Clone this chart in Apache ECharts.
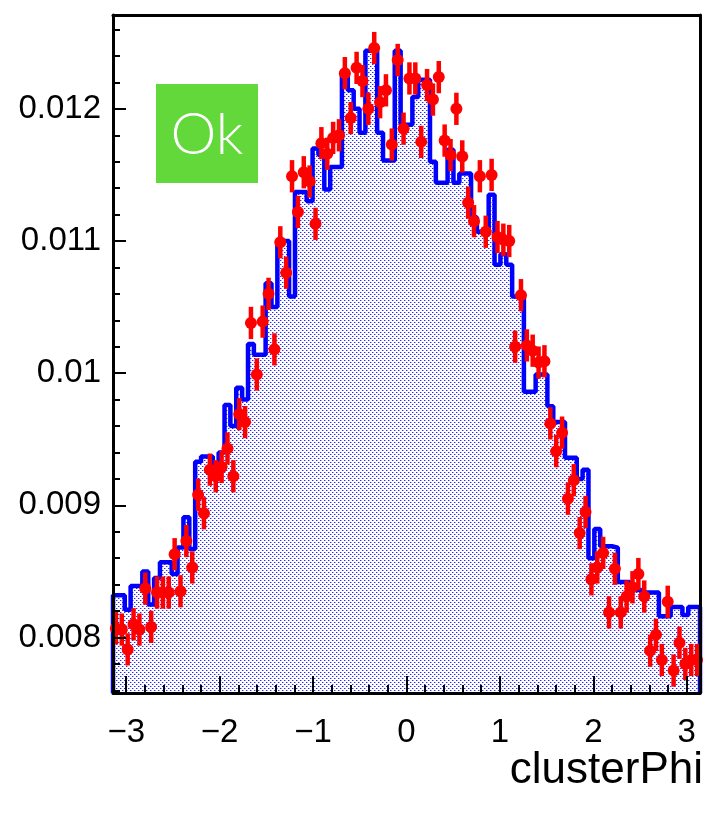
<!DOCTYPE html>
<html>
<head>
<meta charset="utf-8">
<script src="https://cdn.jsdelivr.net/npm/echarts@6/dist/echarts.min.js"></script>
<style>
html,body{margin:0;padding:0;background:#fff}
#main{width:705px;height:815px}
</style>
</head>
<body>
<div id="main"></div>
<script>
// clusterPhi : reference histogram (blue) and data points (red), 100 bins over [-pi, pi]
var phiMin = -Math.PI, phiMax = Math.PI;
var yMin = 0.00758, yMax = 0.01271;

var histVals = [
	0.00832,0.00832,0.00821,0.00839,0.00839,0.00850,0.00825,0.00845,0.00857,0.00857,
	0.00848,0.00868,0.00891,0.00867,0.00933,0.00937,0.00937,0.00930,0.00940,0.00976,
	0.00960,0.00989,0.00980,0.01022,0.01014,0.01014,0.01068,0.01050,0.01100,0.01100,
	0.01058,0.01137,0.01137,0.01130,0.01170,0.01165,0.01139,0.01156,0.01156,0.01228,
	0.01214,0.01200,0.01182,0.01244,0.01244,0.01182,0.01161,0.01161,0.01244,0.01188,
	0.01188,0.01209,0.01222,0.01222,0.01160,0.01144,0.01144,0.01169,0.01144,0.01151,
	0.01151,0.01118,0.01107,0.01107,0.01135,0.01082,0.01090,0.01082,0.01058,0.01058,
	0.00986,0.00986,0.00999,0.00999,0.00975,0.00963,0.00963,0.00936,0.00936,0.00920,
	0.00927,0.00860,0.00882,0.00869,0.00869,0.00868,0.00842,0.00842,0.00836,0.00836,
	0.00834,0.00834,0.00834,0.00816,0.00816,0.00823,0.00823,0.00817,0.00823,0.00823
];
var dataVals = [
	0.00807,0.00806,0.00791,0.00810,0.00806,0.00837,0.00808,0.00834,0.00834,0.00834,
	0.00863,0.00835,0.00873,0.00853,0.00908,0.00894,0.00927,0.00922,0.00929,0.00943,
	0.00922,0.00969,0.00963,0.01038,0.00999,0.01039,0.01060,0.01018,0.01099,0.01076,
	0.01149,0.01122,0.01152,0.01145,0.01113,0.01174,0.01166,0.01178,0.01180,0.01227,
	0.01193,0.01231,0.01221,0.01200,0.01246,0.01205,0.01214,0.01173,0.01237,0.01185,
	0.01223,0.01223,0.01175,0.01218,0.01207,0.01224,0.01176,0.01165,0.01200,0.01164,
	0.01129,0.01115,0.01149,0.01107,0.01150,0.01103,0.01101,0.01100,0.01020,0.01059,
	0.01021,0.01017,0.01008,0.01009,0.00962,0.00941,0.00955,0.00905,0.00919,0.00879,
	0.00895,0.00844,0.00853,0.00864,0.00819,0.00852,0.00819,0.00831,0.00838,0.00848,
	0.00831,0.00790,0.00802,0.00783,0.00827,0.00775,0.00796,0.00780,0.00783,0.00783
];
var errHalf = 0.000122;

var xMajor = [-3,-2,-1,0,1,2,3];
var xLabels = ['\u22123','\u22122','\u22121','0','1','2','3'];
var yMajor = [0.008,0.009,0.01,0.011,0.012];
var yLabels = ['0.008','0.009','0.01','0.011','0.012'];

var xMinor = [];
for (var k = -15; k <= 15; k++) xMinor.push(k * 0.2);
var yMinor = [];
for (var m = 38; m <= 63; m++) yMinor.push(m * 0.0002);

// step outline of the histogram (bin edges)
var nBins = histVals.length;
var binW = (phiMax - phiMin) / nBins;
var histLine = [[phiMin, yMin]];
for (var i = 0; i < nBins; i++) histLine.push([phiMin + i * binW, histVals[i]]);
histLine.push([phiMax, histVals[nBins - 1]]);
histLine.push([phiMax, yMin]);

var dataPts = [];
for (var j = 0; j < dataVals.length; j++) dataPts.push([phiMin + (j + 0.5) * binW, dataVals[j]]);

// dotted fill like ROOT fill style
var tile = document.createElement('canvas');
tile.width = 4; tile.height = 4;
var tctx = tile.getContext('2d');
tctx.fillStyle = '#ffffff'; tctx.fillRect(0, 0, 4, 4);
tctx.fillStyle = '#a8a8ff';
tctx.fillRect(1, 0, 1, 1); tctx.fillRect(3, 2, 1, 1);
tctx.fillStyle = '#2a2aff';
tctx.fillRect(0, 0, 1, 1); tctx.fillRect(2, 2, 1, 1);

var font = 'Liberation Sans';
var gridBox = {left: 113, right: 5, top: 15, bottom: 122};

var myChart = echarts.init(document.getElementById('main'), null, {renderer: 'canvas'});
var option = {
	animation: false,
	backgroundColor: '#ffffff',
	grid: [
		Object.assign({}, gridBox),
		Object.assign({}, gridBox)
	],
	xAxis: [{
		type: 'value', gridIndex: 0, min: phiMin, max: phiMax, position: 'bottom', z: 5,
		axisLine: {show: true, onZero: false, lineStyle: {color: '#000', width: 3}},
		axisTick: {show: true, inside: true, length: 17, customValues: xMajor, lineStyle: {color: '#000', width: 2}},
		axisLabel: {
			customValues: xMajor, margin: 23, fontSize: 33, fontFamily: font, color: '#000',
			formatter: function (v) { return xLabels[xMajor.indexOf(v)]; }
		},
		splitLine: {show: false}
	}, {
		type: 'value', gridIndex: 0, min: phiMin, max: phiMax, position: 'top', z: 5,
		axisLine: {show: true, onZero: false, lineStyle: {color: '#000', width: 3}},
		axisTick: {show: false}, axisLabel: {show: false}, splitLine: {show: false}
	}, {
		type: 'value', gridIndex: 1, min: phiMin, max: phiMax, position: 'bottom', z: 5,
		axisLine: {show: false, onZero: false},
		axisTick: {show: true, inside: true, length: 8, customValues: xMinor, lineStyle: {color: '#000', width: 2}},
		axisLabel: {show: false}, splitLine: {show: false}
	}],
	yAxis: [{
		type: 'value', gridIndex: 0, min: yMin, max: yMax, position: 'left', z: 5,
		axisLine: {show: true, onZero: false, lineStyle: {color: '#000', width: 3}},
		axisTick: {show: true, inside: true, length: 13, customValues: yMajor, lineStyle: {color: '#000', width: 2}},
		axisLabel: {
			customValues: yMajor, margin: 12, fontSize: 33, fontFamily: font, color: '#000',
			formatter: function (v) { return yLabels[yMajor.indexOf(v)]; }
		},
		splitLine: {show: false}
	}, {
		type: 'value', gridIndex: 0, min: yMin, max: yMax, position: 'right', z: 5,
		axisLine: {show: true, onZero: false, lineStyle: {color: '#000', width: 3}},
		axisTick: {show: false}, axisLabel: {show: false}, splitLine: {show: false}
	}, {
		type: 'value', gridIndex: 1, min: yMin, max: yMax, position: 'left', z: 5,
		axisLine: {show: false, onZero: false},
		axisTick: {show: true, inside: true, length: 7, customValues: yMinor, lineStyle: {color: '#000', width: 2}},
		axisLabel: {show: false}, splitLine: {show: false}
	}],
	series: [{
		name: 'reference',
		type: 'line',
		xAxisIndex: 0, yAxisIndex: 0,
		step: 'end',
		symbol: 'none',
		data: histLine,
		lineStyle: {color: '#0000ff', width: 4.5},
		areaStyle: {color: {image: tile, repeat: 'repeat'}, opacity: 1, origin: 'start'},
		z: 2
	}, {
		name: 'data',
		type: 'custom',
		xAxisIndex: 0, yAxisIndex: 0,
		data: dataPts,
		z: 3,
		renderItem: function (params, api) {
			var x = api.value(0), y = api.value(1);
			var c = api.coord([x, y]);
			var lo = api.coord([x, y - errHalf]);
			var hi = api.coord([x, y + errHalf]);
			return {
				type: 'group',
				children: [
					{type: 'line', shape: {x1: c[0], y1: lo[1], x2: c[0], y2: hi[1]}, style: {stroke: '#ff0000', lineWidth: 4.5}},
					{type: 'circle', shape: {cx: c[0], cy: c[1], r: 6}, style: {fill: '#ff0000'}}
				]
			};
		}
	}],
	graphic: [{
		type: 'rect', left: 156, top: 84, z: 20,
		shape: {width: 102, height: 99},
		style: {fill: '#62d83a'}
	}, {
		type: 'text', x: 207, y: 135, z: 21,
		style: {text: 'Ok', fill: '#ffffff', font: '300 58px Lato', textAlign: 'center', textVerticalAlign: 'middle'}
	}, {
		type: 'text', x: 703, y: 771, z: 21,
		style: {text: 'clusterPhi', fill: '#000', font: '44px "Liberation Sans"', textAlign: 'right', textVerticalAlign: 'middle'}
	}]
};
myChart.setOption(option);
</script>
</body>
</html>
